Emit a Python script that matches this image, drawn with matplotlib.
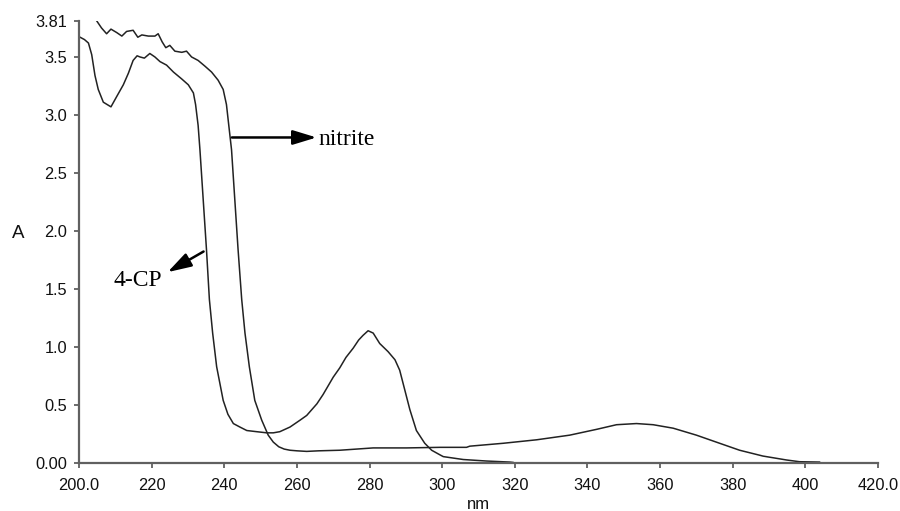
import matplotlib
matplotlib.use("Agg")
import matplotlib.pyplot as plt

# ---- data ----
cp_nm = [200.0, 201.5, 202.6, 203.5, 204.4, 205.3, 206.7, 208.8, 210.4, 212.2,
         213.6, 214.9, 216.0, 216.8, 218.0, 219.5, 220.9, 222.3, 224.1, 226.0,
         228.3, 230.1, 231.5, 232.1, 232.8, 233.3, 234.2, 235.1, 235.9, 236.8,
         237.9, 239.7, 241.0, 242.5, 244.3, 246.2, 248.9, 251.7, 253.5, 255.3,
         258.1, 260.9, 262.7, 265.5, 267.2, 270.0, 271.8, 273.5, 275.5, 277.0,
         278.2, 279.6, 281.0, 282.8, 285.1, 287.0, 288.3, 289.7, 291.1, 292.9,
         295.2, 297.1, 299.4, 300.3, 305.8, 312.2, 318.6, 319.5]
cp_abs = [3.675, 3.65, 3.62, 3.52, 3.34, 3.22, 3.11, 3.07, 3.16, 3.26,
          3.36, 3.47, 3.51, 3.50, 3.49, 3.53, 3.50, 3.46, 3.43, 3.37,
          3.31, 3.26, 3.19, 3.09, 2.91, 2.70, 2.27, 1.84, 1.41, 1.12,
          0.83, 0.54, 0.42, 0.34, 0.31, 0.28, 0.27, 0.26, 0.26, 0.27,
          0.31, 0.37, 0.41, 0.51, 0.59, 0.74, 0.82, 0.91, 0.99, 1.06,
          1.10, 1.14, 1.12, 1.03, 0.96, 0.89, 0.80, 0.63, 0.46, 0.28,
          0.17, 0.11, 0.07, 0.055, 0.03, 0.017, 0.008, 0.005]

no2_nm = [204.9, 206.2, 207.6, 208.8, 210.4, 211.8, 213.1, 214.9, 216.2, 217.3,
          219.1, 220.9, 221.8, 222.9, 223.9, 225.0, 226.4, 228.3, 229.6, 231.0,
          232.8, 234.7, 236.5, 238.3, 239.7, 240.6, 241.1, 242.0, 242.9, 243.8,
          244.8, 245.7, 246.9, 248.4, 250.3, 252.1, 253.5, 255.0, 256.5, 258.1,
          260.0, 262.7, 266.0, 271.8, 281.0, 290.2, 299.4, 306.7, 307.6, 316.8,
          326.0, 335.1, 342.5, 348.0, 353.5, 358.1, 363.6, 370.0, 376.4, 381.9,
          388.3, 394.8, 398.4, 403.9]
no2_abs = [3.81, 3.75, 3.70, 3.74, 3.71, 3.68, 3.72, 3.73, 3.67, 3.69,
           3.68, 3.68, 3.70, 3.63, 3.58, 3.60, 3.55, 3.54, 3.55, 3.50,
           3.47, 3.42, 3.37, 3.30, 3.22, 3.09, 2.95, 2.70, 2.27, 1.84,
           1.41, 1.12, 0.83, 0.54, 0.37, 0.24, 0.18, 0.14, 0.12, 0.11,
           0.105, 0.10, 0.105, 0.11, 0.13, 0.13, 0.135, 0.135, 0.145, 0.17,
           0.20, 0.24, 0.29, 0.33, 0.34, 0.33, 0.30, 0.24, 0.17, 0.11,
           0.06, 0.026, 0.011, 0.008]

x_ticks = [200, 220, 240, 260, 280, 300, 320, 340, 360, 380, 400, 420]
x_tick_labels = ["200.0", "220", "240", "260", "280", "300", "320", "340",
                 "360", "380", "400", "420.0"]
y_ticks = [0.0, 0.5, 1.0, 1.5, 2.0, 2.5, 3.0, 3.5, 3.81]
y_tick_labels = ["0.00", "0.5", "1.0", "1.5", "2.0", "2.5", "3.0", "3.5", "3.81"]

sans = ["Liberation Sans", "DejaVu Sans"]
serif = ["Liberation Serif", "DejaVu Serif"]

fig = plt.figure(figsize=(9, 5.11), dpi=100)
ax = fig.add_axes([79 / 900, 1 - 463 / 511, (878 - 79) / 900, (463 - 21) / 511])

line_kw = dict(color="#222222", lw=1.1)
ax.plot(cp_nm, cp_abs, **line_kw)
ax.plot(no2_nm, no2_abs, **line_kw)

ax.set_xlim(200, 420)
ax.set_ylim(0, 3.81)

for s in ["top", "right"]:
    ax.spines[s].set_visible(False)
for s in ["left", "bottom"]:
    ax.spines[s].set_color("#606060")
    ax.spines[s].set_linewidth(1.6)

ax.set_xticks(x_ticks)
ax.set_xticklabels(x_tick_labels, fontfamily=sans, fontsize=11.8)
ax.set_yticks(y_ticks)
ax.set_yticklabels(y_tick_labels, fontfamily=sans, fontsize=11.8)
ax.tick_params(axis="both", direction="out", length=3.6, width=1.3,
               color="#606060", labelcolor="#111111")
ax.tick_params(axis="x", pad=7.0)
ax.tick_params(axis="y", pad=5)

fig.text(478.5 / 900, 2.5 / 511, "nm", fontfamily=sans, fontsize=12,
         ha="center", va="baseline", color="#111111")
fig.text(18.5 / 900, 1 - 233.5 / 511, "A", fontfamily=sans, fontsize=13.5,
         ha="center", va="center", color="#111111")

arrow_kw = dict(arrowstyle="-|>,head_length=0.72,head_width=0.22",
                color="black", lw=1.8, shrinkA=0, shrinkB=0, mutation_scale=20)
ax.annotate("", xy=(265.4, 2.806), xytext=(242.1, 2.806), arrowprops=arrow_kw)
ax.text(265.9, 2.741, "nitrite", fontfamily=serif, fontsize=17,
        ha="left", va="baseline", color="black")

ax.annotate("", xy=(224.4, 1.645), xytext=(234.3, 1.823), arrowprops=arrow_kw)
ax.text(209.6, 1.526, "4-CP", fontfamily=serif, fontsize=17,
        ha="left", va="baseline", color="black")

fig.savefig("out.png", dpi=100)
